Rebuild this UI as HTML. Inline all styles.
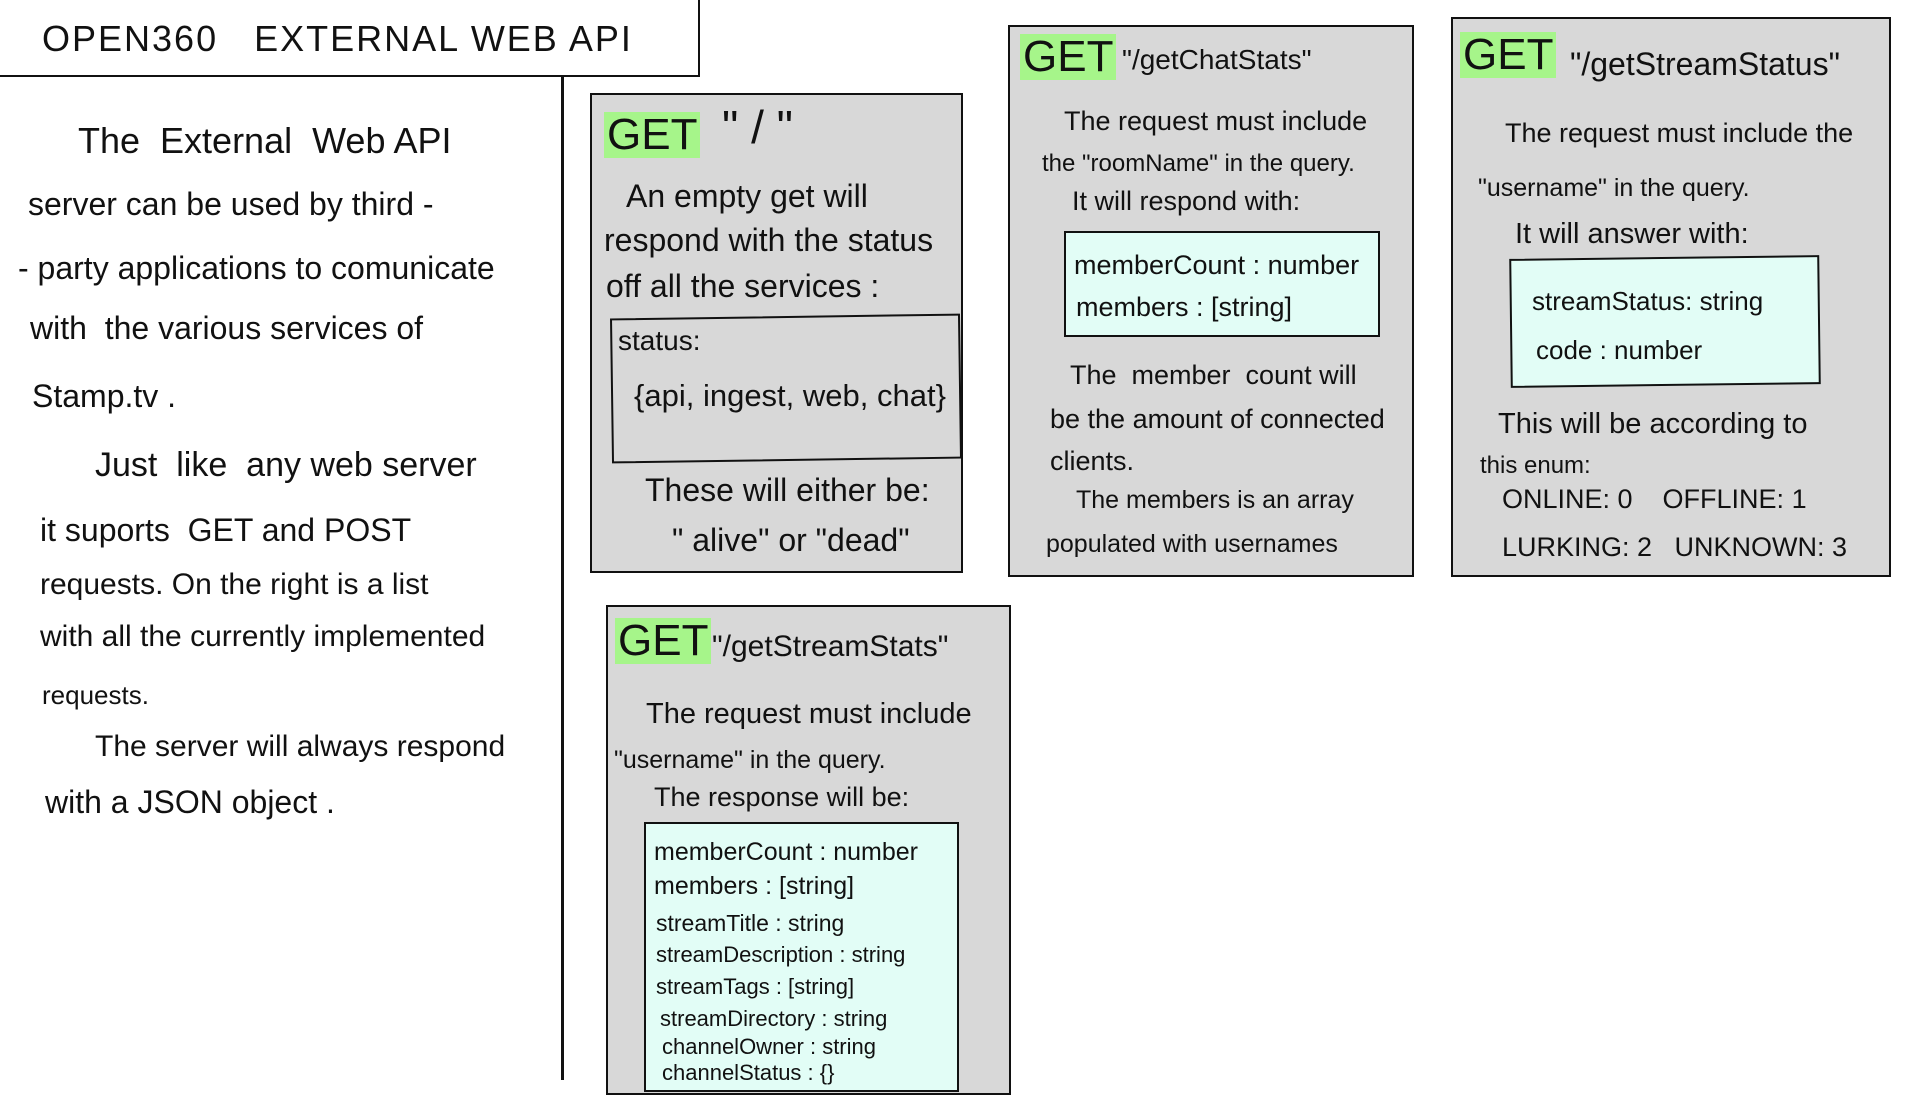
<!DOCTYPE html>
<html><head><meta charset="utf-8"><style>
body{margin:0;width:1920px;height:1080px;background:#fff;position:relative;overflow:hidden;font-family:"Liberation Sans",sans-serif;color:#111}
.b{position:absolute;border:2.5px solid #111;box-sizing:border-box}
.g{background:#d8d8d8}
.c{background:#e2fdf6}
.t{position:absolute;white-space:nowrap;font-size:29px}
.get{position:absolute;background:#a6f58a;font-size:44px;line-height:46px;padding:0 3px}
</style></head><body>
<div class="b" style="left:-3px;top:-3px;width:703px;height:80px"></div>
<div class="t" style="left:42px;top:18px;font-size:36px;letter-spacing:2px">OPEN360 &nbsp; EXTERNAL WEB API</div>
<div style="position:absolute;left:561px;top:77px;width:2.5px;height:1003px;background:#111"></div>

<div class="t" style="left:78px;top:120px;font-size:36px">The &nbsp;External &nbsp;Web API</div>
<div class="t" style="left:28px;top:186px;font-size:32px">server can be used by third -</div>
<div class="t" style="left:18px;top:250px;font-size:32px">- party applications to comunicate</div>
<div class="t" style="left:30px;top:310px;font-size:32px">with &nbsp;the various services of</div>
<div class="t" style="left:32px;top:378px;font-size:32px">Stamp.tv .</div>
<div class="t" style="left:95px;top:446px;font-size:34px">Just &nbsp;like &nbsp;any web server</div>
<div class="t" style="left:40px;top:512px;font-size:32px">it suports &nbsp;GET and POST</div>
<div class="t" style="left:40px;top:568px;font-size:30px">requests. On the right is a list</div>
<div class="t" style="left:40px;top:620px;font-size:30px">with all the currently implemented</div>
<div class="t" style="left:42px;top:680px;font-size:26px">requests.</div>
<div class="t" style="left:95px;top:730px;font-size:30px">The server will always respond</div>
<div class="t" style="left:45px;top:784px;font-size:32px">with a JSON object .</div>

<div class="b g" style="left:590px;top:93px;width:373px;height:480px"></div>
<div class="get" style="left:604px;top:112px">GET</div>
<div class="t" style="left:722px;top:100px;font-size:46px">" / "</div>
<div class="t" style="left:626px;top:178px;font-size:32px">An empty get will</div>
<div class="t" style="left:604px;top:222px;font-size:32px">respond with the status</div>
<div class="t" style="left:606px;top:268px;font-size:32px">off all the services :</div>
<div class="b" style="left:611px;top:316px;width:350px;height:145px;transform:rotate(-0.8deg)"></div>
<div class="t" style="left:618px;top:325px;font-size:28px">status:</div>
<div class="t" style="left:634px;top:378px;font-size:31px">{api, ingest, web, chat}</div>
<div class="t" style="left:645px;top:472px;font-size:32px">These will either be:</div>
<div class="t" style="left:672px;top:522px;font-size:32px">" alive" or "dead"</div>

<div class="b g" style="left:1008px;top:25px;width:406px;height:552px"></div>
<div class="get" style="left:1020px;top:34px">GET</div>
<div class="t" style="left:1122px;top:44px;font-size:28px">"/getChatStats"</div>
<div class="t" style="left:1064px;top:106px;font-size:27px">The request must include</div>
<div class="t" style="left:1042px;top:150px;font-size:24px">the "roomName" in the query.</div>
<div class="t" style="left:1072px;top:186px;font-size:27px">It will respond with:</div>
<div class="b c" style="left:1064px;top:231px;width:316px;height:106px"></div>
<div class="t" style="left:1074px;top:250px;font-size:27px">memberCount : number</div>
<div class="t" style="left:1076px;top:292px;font-size:27px">members : [string]</div>
<div class="t" style="left:1070px;top:360px;font-size:27px">The &nbsp;member &nbsp;count will</div>
<div class="t" style="left:1050px;top:404px;font-size:27px">be the amount of connected</div>
<div class="t" style="left:1050px;top:446px;font-size:27px">clients.</div>
<div class="t" style="left:1076px;top:486px;font-size:25px">The members is an array</div>
<div class="t" style="left:1046px;top:530px;font-size:25px">populated with usernames</div>

<div class="b g" style="left:1451px;top:17px;width:440px;height:560px"></div>
<div class="get" style="left:1460px;top:32px">GET</div>
<div class="t" style="left:1570px;top:46px;font-size:32px">"/getStreamStatus"</div>
<div class="t" style="left:1505px;top:118px;font-size:27px">The request must include the</div>
<div class="t" style="left:1478px;top:174px;font-size:25px">"username" in the query.</div>
<div class="t" style="left:1515px;top:218px;font-size:29px">It will answer with:</div>
<div class="b c" style="left:1510px;top:257px;width:310px;height:129px;transform:rotate(-0.7deg)"></div>
<div class="t" style="left:1532px;top:286px;font-size:26px">streamStatus: string</div>
<div class="t" style="left:1536px;top:335px;font-size:26px">code : number</div>
<div class="t" style="left:1498px;top:408px;font-size:29px">This will be according to</div>
<div class="t" style="left:1480px;top:452px;font-size:24px">this enum:</div>
<div class="t" style="left:1502px;top:484px;font-size:27px">ONLINE: 0 &nbsp;&nbsp; OFFLINE: 1</div>
<div class="t" style="left:1502px;top:532px;font-size:27px">LURKING: 2 &nbsp; UNKNOWN: 3</div>

<div class="b g" style="left:606px;top:605px;width:405px;height:490px"></div>
<div class="get" style="left:615px;top:618px">GET</div>
<div class="t" style="left:712px;top:630px;font-size:30px">"/getStreamStats"</div>
<div class="t" style="left:646px;top:698px;font-size:29px">The request must include</div>
<div class="t" style="left:614px;top:746px;font-size:25px">"username" in the query.</div>
<div class="t" style="left:654px;top:782px;font-size:27px">The response will be:</div>
<div class="b c" style="left:644px;top:822px;width:315px;height:270px"></div>
<div class="t" style="left:654px;top:838px;font-size:25px">memberCount : number</div>
<div class="t" style="left:654px;top:872px;font-size:25px">members : [string]</div>
<div class="t" style="left:656px;top:910px;font-size:23px">streamTitle : string</div>
<div class="t" style="left:656px;top:942px;font-size:22px">streamDescription : string</div>
<div class="t" style="left:656px;top:974px;font-size:22px">streamTags : [string]</div>
<div class="t" style="left:660px;top:1006px;font-size:22px">streamDirectory : string</div>
<div class="t" style="left:662px;top:1034px;font-size:22px">channelOwner : string</div>
<div class="t" style="left:662px;top:1060px;font-size:22px">channelStatus : {}</div>
</body></html>
